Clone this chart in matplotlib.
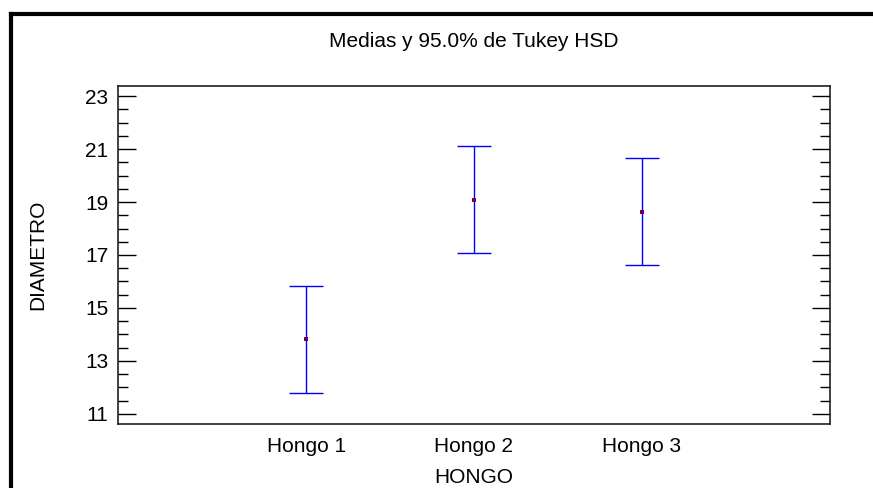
import numpy as np
import matplotlib
matplotlib.use("Agg")
import matplotlib.pyplot as plt
from matplotlib.lines import Line2D
from matplotlib.ticker import MultipleLocator

# Tukey HSD intervals per fungus group
groups = ["Hongo 1", "Hongo 2", "Hongo 3"]
means = [13.82, 19.08, 18.64]
half_width = [2.02, 2.02, 2.02]
y_ticks = [11, 13, 15, 17, 19, 21, 23]

plt.rcParams['font.family'] = ['Liberation Sans', 'DejaVu Sans']
fs = 15

fig = plt.figure(figsize=(8.73, 4.88), dpi=100)
W, H = 873, 488
ax = fig.add_axes([118 / W, 1 - 424 / H, (830 - 118) / W, (424 - 86) / H])

x = np.arange(1, len(groups) + 1)
ax.errorbar(x, means, yerr=half_width, fmt='none', ecolor='#0000ff',
            elinewidth=1.0, capsize=12.5, capthick=1.0)
ax.plot(x, means, 's', color='#700050', markersize=2.2, markeredgewidth=0)

ax.set_xlim(2 - 2.12, 2 + 2.12)
ax.set_ylim(10.62, 23.38)
ax.set_xticks(x)
ax.set_xticklabels(groups)
ax.set_yticks(y_ticks)
ax.yaxis.set_minor_locator(MultipleLocator(0.5))

ax.tick_params(axis='x', length=0, labelsize=fs, pad=9)
ax.tick_params(axis='y', which='major', direction='in', length=13, width=1,
               left=True, right=True, labelsize=fs, pad=7)
ax.tick_params(axis='y', which='minor', direction='in', length=7, width=1,
               left=True, right=True)
for s in ax.spines.values():
    s.set_linewidth(1.2)
    s.set_color('#202020')

ax.set_title("Medias y 95.0% de Tukey HSD", fontsize=fs, pad=28)
ax.set_xlabel("HONGO", fontsize=fs, labelpad=9)
ax.set_ylabel("DIAMETRO", fontsize=fs, labelpad=27)

# heavy frame along the top and left edges
fig.add_artist(Line2D([11 / W, 1], [1 - 14 / H, 1 - 14 / H], color='black',
                      linewidth=3, transform=fig.transFigure))
fig.add_artist(Line2D([11 / W, 11 / W], [0, 1 - 14 / H], color='black',
                      linewidth=3, transform=fig.transFigure))

fig.savefig("out.png", dpi=100)
